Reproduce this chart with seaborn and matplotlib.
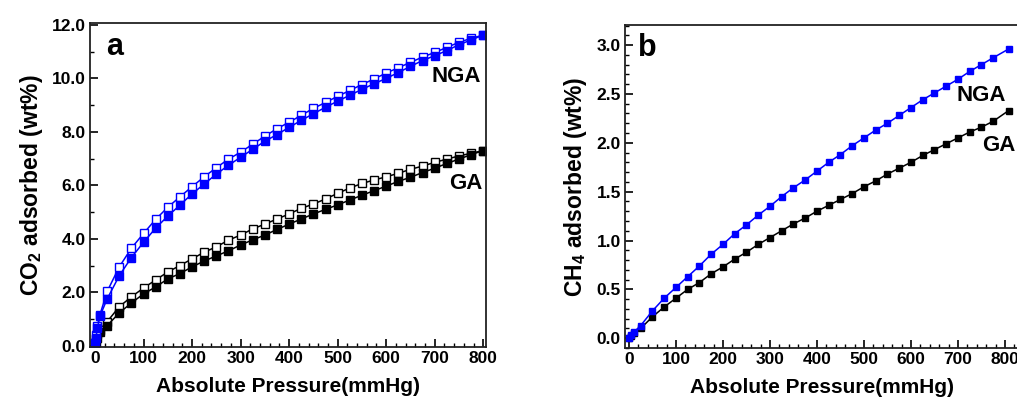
import numpy as np
import pandas as pd
import matplotlib
matplotlib.use("Agg")
import matplotlib.pyplot as plt
import seaborn as sns
from matplotlib.ticker import MultipleLocator, FormatStrFormatter

# ---------------- data ----------------
pressure_a = [0, 2, 5, 10, 25, 50, 75, 100, 125, 150, 175, 200, 225, 250, 275, 300,
              325, 350, 375, 400, 425, 450, 475, 500, 525, 550, 575, 600, 625, 650,
              675, 700, 725, 750, 775, 800]
nga_co2_ads = [0.05, 0.3, 0.67, 1.1, 1.75, 2.62, 3.3, 3.87, 4.4, 4.85, 5.26, 5.68, 6.05,
               6.42, 6.75, 7.05, 7.35, 7.65, 7.9, 8.17, 8.43, 8.68, 8.92, 9.15, 9.37,
               9.59, 9.8, 10.0, 10.22, 10.45, 10.67, 10.85, 11.04, 11.26, 11.44, 11.62]
nga_co2_des = [0.1, 0.4, 0.75, 1.15, 2.03, 2.95, 3.65, 4.2, 4.73, 5.18, 5.57, 5.95, 6.32,
               6.66, 6.98, 7.24, 7.54, 7.84, 8.12, 8.36, 8.62, 8.88, 9.1, 9.33, 9.55,
               9.77, 9.98, 10.2, 10.4, 10.6, 10.8, 10.97, 11.16, 11.35, 11.5, 11.62]
ga_co2_ads = [0.05, 0.15, 0.3, 0.5, 0.75, 1.23, 1.6, 1.94, 2.2, 2.5, 2.7, 2.95, 3.17,
              3.36, 3.55, 3.77, 3.96, 4.14, 4.35, 4.55, 4.74, 4.93, 5.1, 5.27, 5.45,
              5.63, 5.8, 5.97, 6.15, 6.3, 6.48, 6.64, 6.82, 6.98, 7.15, 7.3]
ga_co2_des = [0.1, 0.25, 0.45, 0.6, 0.9, 1.46, 1.83, 2.16, 2.46, 2.76, 3.0, 3.25, 3.5,
              3.7, 3.95, 4.14, 4.37, 4.55, 4.74, 4.93, 5.14, 5.3, 5.49, 5.7, 5.9, 6.07,
              6.2, 6.32, 6.45, 6.6, 6.72, 6.86, 6.98, 7.1, 7.2, 7.3]

pressure_b = [0, 5, 10, 25, 50, 75, 100, 125, 150, 175, 200, 225, 250, 275, 300, 325,
              350, 375, 400, 425, 450, 475, 500, 525, 550, 575, 600, 625, 650, 675,
              700, 725, 750, 775, 808]
nga_ch4 = [0.0, 0.03, 0.06, 0.13, 0.28, 0.41, 0.52, 0.63, 0.74, 0.86, 0.96, 1.07, 1.16,
           1.26, 1.35, 1.45, 1.54, 1.62, 1.71, 1.8, 1.88, 1.97, 2.05, 2.13, 2.2, 2.28,
           2.36, 2.44, 2.51, 2.58, 2.65, 2.73, 2.8, 2.87, 2.96]
ga_ch4 = [0.0, 0.02, 0.05, 0.1, 0.22, 0.32, 0.41, 0.5, 0.57, 0.66, 0.73, 0.81, 0.88,
          0.96, 1.03, 1.1, 1.17, 1.23, 1.3, 1.36, 1.42, 1.48, 1.55, 1.61, 1.68, 1.74,
          1.8, 1.87, 1.93, 1.99, 2.05, 2.11, 2.16, 2.22, 2.33]

x_label = "Absolute Pressure(mmHg)"
y_label_a = "CO$_2$ adsorbed (wt%)"
y_label_b = "CH$_4$ adsorbed (wt%)"

# ---------------- style ----------------
sns.set_style("ticks")
plt.rcParams["font.family"] = ["Liberation Sans", "DejaVu Sans"]
plt.rcParams["font.weight"] = "bold"
plt.rcParams["axes.labelweight"] = "bold"
plt.rcParams["text.color"] = "black"
plt.rcParams["axes.labelcolor"] = "black"
plt.rcParams["xtick.color"] = "black"
plt.rcParams["ytick.color"] = "black"
plt.rcParams["mathtext.fontset"] = "custom"
plt.rcParams["mathtext.rm"] = "Liberation Sans:bold"
plt.rcParams["mathtext.bf"] = "Liberation Sans:bold"
plt.rcParams["mathtext.it"] = "Liberation Sans:bold"
plt.rcParams["mathtext.default"] = "bf"

BLUE = "#0000ff"
BLACK = "#000000"

fig = plt.figure(figsize=(10.17, 4.05), dpi=100)
ax1 = fig.add_axes([0.0885, 0.143, 0.3895, 0.800])
ax2 = fig.add_axes([0.6145, 0.1407, 0.3875, 0.7975])


def series(ax, x, y, color, filled, ms, lw):
    df = pd.DataFrame({"x": x, "y": y})
    sns.lineplot(data=df, x="x", y="y", ax=ax, color=color, linewidth=lw,
                 marker="s", markersize=ms,
                 markerfacecolor=color if filled else "white",
                 markeredgecolor=color, markeredgewidth=1.0,
                 estimator=None, sort=False, legend=False)


# panel a
series(ax1, pressure_a, ga_co2_des, BLACK, False, 6, 1.1)
series(ax1, pressure_a, ga_co2_ads, BLACK, True, 6, 1.1)
series(ax1, pressure_a, nga_co2_des, BLUE, False, 6, 1.1)
series(ax1, pressure_a, nga_co2_ads, BLUE, True, 6, 1.1)

# panel b
series(ax2, pressure_b, ga_ch4, BLACK, True, 5, 1.1)
series(ax2, pressure_b, nga_ch4, BLUE, True, 5, 1.1)

ax1.set_xlim(-10.3, 806)
ax1.set_ylim(-0.05, 12.07)
ax2.set_xlim(-8.5, 830)
ax2.set_ylim(-0.1, 3.205)

ax1.yaxis.set_major_locator(MultipleLocator(2))
ax1.yaxis.set_minor_locator(MultipleLocator(1))
ax1.yaxis.set_major_formatter(FormatStrFormatter("%.1f"))
ax2.yaxis.set_major_locator(MultipleLocator(0.5))
ax2.yaxis.set_minor_locator(MultipleLocator(0.1))
ax2.yaxis.set_major_formatter(FormatStrFormatter("%.1f"))

for ax, ylab in ((ax1, y_label_a), (ax2, y_label_b)):
    ax.xaxis.set_major_locator(MultipleLocator(100))
    ax.xaxis.set_minor_locator(MultipleLocator(20))
    ax.tick_params(which="major", direction="in", length=6, width=1.2,
                   labelsize=12.5, pad=3, colors="black")
    ax.tick_params(which="minor", direction="in", length=3, width=1.0,
                   colors="black")
    for lab in ax.get_xticklabels() + ax.get_yticklabels():
        lab.set_fontweight("bold")
    for sp in ax.spines.values():
        sp.set_visible(True)
        sp.set_linewidth(1.3)
        sp.set_color("#222222")
    ax.set_xlabel(x_label, fontsize=15, fontweight="bold", labelpad=8,
                  color="black")
    ax.set_ylabel(ylab, fontsize=16.5, fontweight="bold", labelpad=5,
                  color="black")

ax1.text(0.063, 0.926, "a", transform=ax1.transAxes, fontsize=22,
         fontweight="bold", ha="center", va="center", color="black")
ax1.text(0.987, 0.836, "NGA", transform=ax1.transAxes, fontsize=16,
         fontweight="bold", ha="right", va="center", color="black")
ax1.text(0.992, 0.506, "GA", transform=ax1.transAxes, fontsize=16,
         fontweight="bold", ha="right", va="center", color="black")

ax2.text(0.058, 0.929, "b", transform=ax2.transAxes, fontsize=22,
         fontweight="bold", ha="center", va="center", color="black")
ax2.text(0.967, 0.783, "NGA", transform=ax2.transAxes, fontsize=16,
         fontweight="bold", ha="right", va="center", color="black")
ax2.text(0.906, 0.628, "GA", transform=ax2.transAxes, fontsize=16,
         fontweight="bold", ha="left", va="center", color="black")

fig.savefig("out.png", dpi=100)
